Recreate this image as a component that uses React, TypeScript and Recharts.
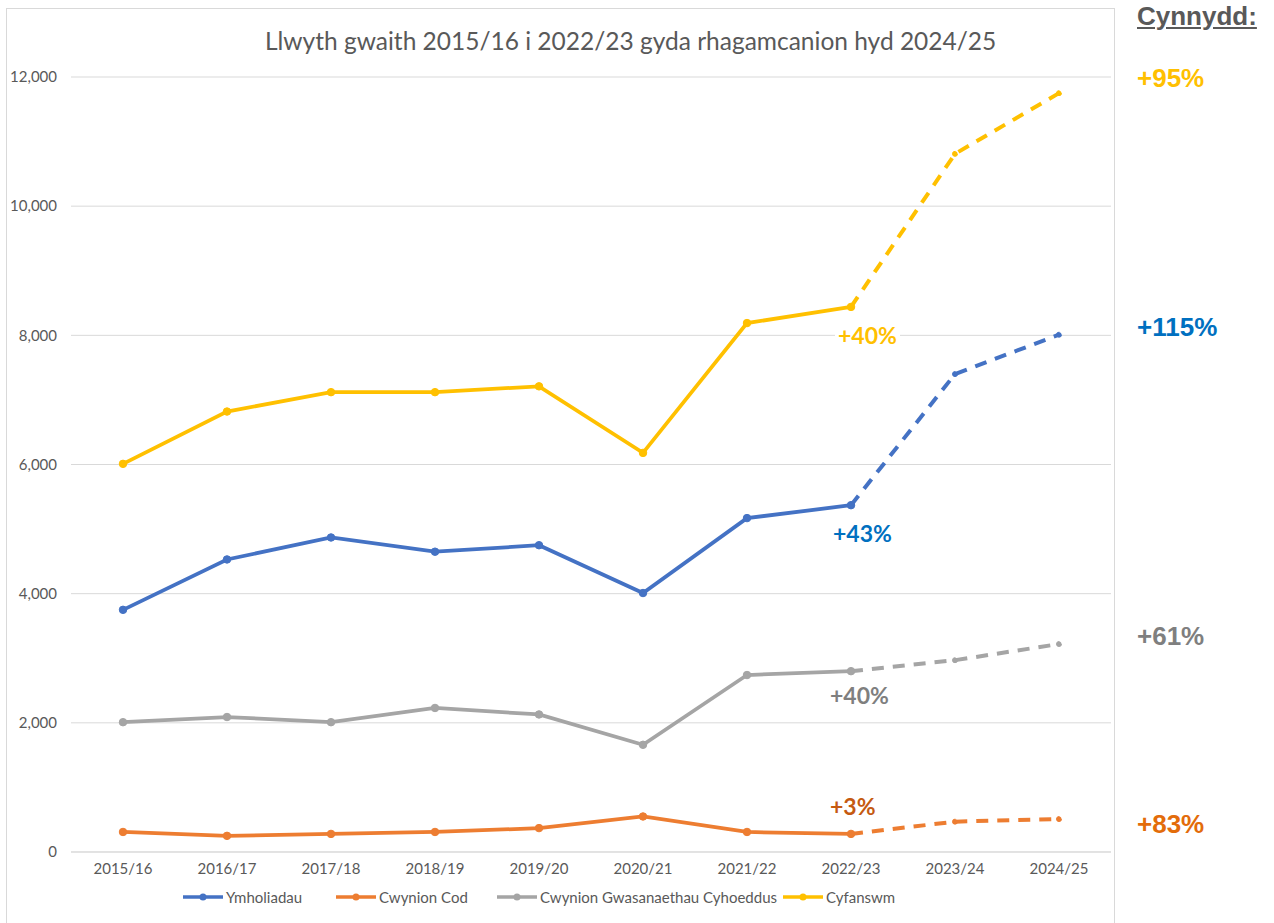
import React from 'react';
import { LineChart, Line, XAxis, YAxis, CartesianGrid } from 'recharts';

const categories = ['2015/16', '2016/17', '2017/18', '2018/19', '2019/20', '2020/21', '2021/22', '2022/23', '2023/24', '2024/25'];
const ymholiadau = [3750, 4530, 4870, 4650, 4750, 4010, 5170, 5370, null, null];
const ymholiadauProj = [null, null, null, null, null, null, null, 5370, 7400, 8010];
const cwynionCod = [310, 250, 280, 310, 370, 550, 310, 280, null, null];
const cwynionCodProj = [null, null, null, null, null, null, null, 280, 470, 510];
const cwynionGC = [2010, 2090, 2010, 2230, 2130, 1660, 2740, 2800, null, null];
const cwynionGCProj = [null, null, null, null, null, null, null, 2800, 2970, 3220];
const cyfanswm = [6010, 6820, 7120, 7120, 7210, 6180, 8190, 8440, null, null];
const cyfanswmProj = [null, null, null, null, null, null, null, 8440, 10810, 11750];
const yTicks = [0, 2000, 4000, 6000, 8000, 10000, 12000];

const seriesNames = ['Ymholiadau', 'Cwynion Cod', 'Cwynion Gwasanaethau Cyhoeddus', 'Cyfanswm'];
const seriesColors = ['#4472C4', '#ED7D31', '#A5A5A5', '#FFC000'];

const innerLabels = ['+43%', '+3%', '+40%', '+40%'];
const outerLabels = ['+115%', '+83%', '+61%', '+95%'];

const data = categories.map((c, i) => ({
  cat: c,
  ymh: ymholiadau[i],
  ymhP: ymholiadauProj[i],
  cod: cwynionCod[i],
  codP: cwynionCodProj[i],
  gc: cwynionGC[i],
  gcP: cwynionGCProj[i],
  cyf: cyfanswm[i],
  cyfP: cyfanswmProj[i],
}));

const FONT = 'Lato, "Open Sans", sans-serif';
const ARIAL = '"Liberation Sans", Arial, sans-serif';
const tickStyle = { fill: '#595959', fontSize: 15, fontFamily: FONT };
const legendLeft = [183, 336, 497, 783];

export default function App() {
  const solidKeys = ['ymh', 'cod', 'gc', 'cyf'];
  const projKeys = ['ymhP', 'codP', 'gcP', 'cyfP'];
  return (
    <div style={{ position: 'absolute', left: 0, top: 0, width: 1274, height: 923, background: '#fff', overflow: 'hidden' }}>
      <div style={{ position: 'absolute', left: 6, top: 8, width: 1107, height: 930, border: '1px solid #D9D9D9' }} />
      <div style={{ position: 'absolute', left: 6, top: 26, width: 1250, fontFamily: FONT, fontSize: 24.5, color: '#595959' }}>
        <span style={{ position: 'absolute', left: 259, whiteSpace: 'nowrap' }}>Llwyth gwaith 2015/16 i 2022/23 gyda rhagamcanion hyd 2024/25</span>
      </div>
      <div style={{ position: 'absolute', left: 0, top: 0 }}>
        <LineChart width={1114} height={923} data={data} margin={{ top: 77, right: 3, left: 0, bottom: 41 }}>
          <CartesianGrid vertical={false} stroke="#D9D9D9" strokeWidth={1} />
          <XAxis dataKey="cat" height={30} tickLine={false} axisLine={{ stroke: '#D9D9D9' }} tick={tickStyle} tickMargin={5} interval={0}
            padding={{ left: 52, right: 52 }} />
          <YAxis width={71} domain={[0, 12000]} ticks={yTicks} tickLine={false} axisLine={false} tick={tickStyle} tickMargin={8}
            tickFormatter={(v: number) => v.toLocaleString('en-US')} />
          {solidKeys.map((k, i) => (
            <Line key={k} dataKey={k} stroke={seriesColors[i]} strokeWidth={3.75} isAnimationActive={false}
              dot={{ r: 3.75, fill: seriesColors[i], stroke: seriesColors[i], strokeWidth: 1 }} connectNulls={false} />
          ))}
          {projKeys.map((k, i) => (
            <Line key={k} dataKey={k} stroke={seriesColors[i]} strokeWidth={4} strokeDasharray="12 9" isAnimationActive={false}
              dot={{ r: 2.5, fill: seriesColors[i], stroke: seriesColors[i], strokeWidth: 1 }} connectNulls={false} />
          ))}
        </LineChart>
      </div>
      {/* inner labels */}
      <div style={{ position: 'absolute', left: 835, top: 321, fontFamily: FONT, fontWeight: 700, fontSize: 23, color: '#FFC000', background: '#fff', padding: '0 3px' }}>{innerLabels[3]}</div>
      <div style={{ position: 'absolute', left: 833, top: 519, fontFamily: FONT, fontWeight: 700, fontSize: 23, color: '#0070C0' }}>{innerLabels[0]}</div>
      <div style={{ position: 'absolute', left: 830, top: 681, fontFamily: FONT, fontWeight: 700, fontSize: 23, color: '#7F7F7F' }}>{innerLabels[2]}</div>
      <div style={{ position: 'absolute', left: 830, top: 792, fontFamily: FONT, fontWeight: 700, fontSize: 23, color: '#C55A11' }}>{innerLabels[1]}</div>
      {/* outer labels */}
      <div style={{ position: 'absolute', left: 1137, top: 1, fontFamily: ARIAL, fontWeight: 700, fontSize: 26, color: '#595959', textDecoration: 'underline' }}>Cynnydd:</div>
      <div style={{ position: 'absolute', left: 1137, top: 63, fontFamily: ARIAL, fontWeight: 700, fontSize: 26, color: '#FFC000' }}>{outerLabels[3]}</div>
      <div style={{ position: 'absolute', left: 1137, top: 312, fontFamily: ARIAL, fontWeight: 700, fontSize: 26, color: '#0070C0' }}>{outerLabels[0]}</div>
      <div style={{ position: 'absolute', left: 1137, top: 621, fontFamily: ARIAL, fontWeight: 700, fontSize: 26, color: '#7F7F7F' }}>{outerLabels[2]}</div>
      <div style={{ position: 'absolute', left: 1137, top: 809, fontFamily: ARIAL, fontWeight: 700, fontSize: 26, color: '#E36C0A' }}>{outerLabels[1]}</div>
      {/* legend */}
      {seriesNames.map((n, i) => (
        <div key={n} style={{ position: 'absolute', left: legendLeft[i], top: 888, display: 'flex', alignItems: 'center', fontFamily: FONT, fontSize: 15, color: '#595959', whiteSpace: 'nowrap' }}>
          <svg width={40} height={10} style={{ marginRight: 3 }}>
            <line x1={0} y1={5} x2={40} y2={5} stroke={seriesColors[i]} strokeWidth={3.5} />
            <circle cx={20} cy={5} r={3.5} fill={seriesColors[i]} />
          </svg>
          <span>{n}</span>
        </div>
      ))}
    </div>
  );
}
